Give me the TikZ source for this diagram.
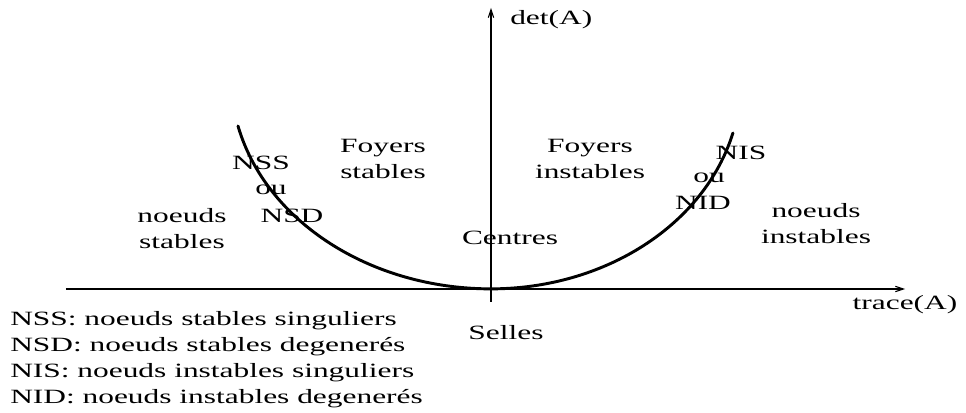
\documentclass[tikz,border=0pt]{standalone}
\usepackage{fontspec}
\setmainfont{Liberation Serif}[FakeStretch=1.55]
\usetikzlibrary{arrows.meta,positioning}

\begin{document}
\begin{tikzpicture}[
  x=0.75pt, y=0.75pt,
  >={Straight Barb[length=6pt,width=4pt]},
  lbl/.style={font=\fontsize{15.2}{19.5}\selectfont,inner sep=0pt,align=center},
  axis/.style={line width=0.8pt,->},
  bord/.style={line width=2.2pt,line cap=round}
]
  \useasboundingbox (-491,-124) rectangle (475,289);

  % axes
  \coordinate (xmin) at (-425,0);
  \coordinate (xmax) at (414,0);
  \coordinate (ymin) at (0,-13);
  \coordinate (ymax) at (0,281);
  \draw[axis] (xmin) -- (xmax);
  \draw[axis] (ymin) -- (ymax);
  \node[lbl,anchor=west] (det) at (19,269) {det(A)};
  \node[lbl] (trace) at (414,-16) {trace(A)};

  % frontiere det = trace^2/4
  \coordinate (gauche) at (-253,163);
  \draw[bord] (gauche) arc[start angle=193.4,end angle=270,x radius=260,y radius=212]
                       arc[start angle=270,end angle=345.5,x radius=250,y radius=208];

  % regions
  \node[lbl] (fs) at (-108,130) {Foyers\\stables};
  \node[lbl] (fi) at (99,130) {Foyers\\instables};
  \node[lbl] (ns) at (-309,60) {noeuds\\stables};
  \node[lbl] (ni) at (325,65) {noeuds\\instables};
  \node[lbl] (centres) at (19,51) {Centres};
  \node[lbl] (selles) at (15,-44) {Selles};

  \node[lbl,anchor=base] (nss) at (-230,119) {NSS};
  \node[lbl,anchor=base] (ou1) at (-220,94) {ou};
  \node[lbl,anchor=base] (nsd) at (-199,66) {NSD};
  \node[lbl,anchor=base] (nis) at (250,129) {NIS};
  \node[lbl,anchor=base] (ou2) at (218,106) {ou};
  \node[lbl,anchor=base] (nid) at (212,79) {NID};

  % legende
  \node[lbl,align=left,anchor=north west] (leg) at (-481,-22)
    {NSS: noeuds stables singuliers\\
     NSD: noeuds stables degenerés\\
     NIS: noeuds instables singuliers\\
     NID: noeuds instables degenerés};
\end{tikzpicture}
\end{document}
